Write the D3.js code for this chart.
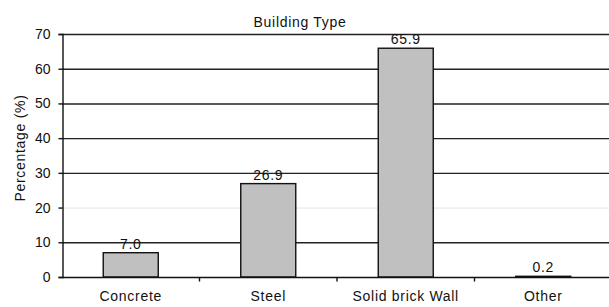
<!DOCTYPE html>
<html lang="en">
<head>
<meta charset="utf-8">
<title>Building Type</title>
<script src="https://d3js.org/d3.v7.min.js"></script>
<style>
  body { margin: 0; background: #fff; }
  text { font-family: "Liberation Sans", Arial, sans-serif; fill: #111; }
</style>
</head>
<body>
<script>
// data
var categories = ["Concrete", "Steel", "Solid brick Wall", "Other"];
var values = [7.0, 26.9, 65.9, 0.2];
var valueLabels = ["7.0", "26.9", "65.9", "0.2"];
var yTicks = [0, 10, 20, 30, 40, 50, 60, 70];

var w = 609, h = 307;
var mLeft = 62, mRight = 612, mTop = 34, mBottom = 277;
var fs = 14, ls = 0.7; // font size, letter spacing (original text is a bit wide)

var svg = d3.select("body").append("svg")
    .attr("width", w)
    .attr("height", h);

var x = d3.scaleBand()
    .domain(categories)
    .range([mLeft, mRight])
    .paddingInner(0.6)
    .paddingOuter(0.3);

var y = d3.scaleLinear()
    .domain([0, 70])
    .range([mBottom, mTop]);

// gridlines (20 is barely visible in the original)
svg.append("g").selectAll("line")
    .data(yTicks.filter(function(d) { return d > 0; }))
    .enter().append("line")
    .attr("x1", mLeft).attr("x2", w)
    .attr("y1", function(d) { return y(d) + 0.5; })
    .attr("y2", function(d) { return y(d) + 0.5; })
    .attr("stroke", function(d) { return d == 20 ? "#e4e4e4" : "#222"; })
    .attr("stroke-width", function(d) { return d == 20 ? 1 : 1.4; });

// bars
svg.append("g").selectAll("rect")
    .data(values)
    .enter().append("rect")
    .attr("x", function(d, i) { return x(categories[i]); })
    .attr("y", function(d) { return y(d); })
    .attr("width", x.bandwidth())
    .attr("height", function(d) { return y(0) - y(d); })
    .attr("fill", "#c0c0c0")
    .attr("stroke", "#111")
    .attr("stroke-width", 1.4);

// value labels
svg.append("g").selectAll("text")
    .data(values)
    .enter().append("text")
    .attr("x", function(d, i) { return x(categories[i]) + x.bandwidth() / 2; })
    .attr("y", function(d) { return y(d) - 4; })
    .attr("text-anchor", "middle")
    .attr("font-size", fs)
    .attr("letter-spacing", ls)
    .text(function(d, i) { return valueLabels[i]; });

// axes
var yAxis = d3.axisLeft(y).tickValues(yTicks).tickSize(4).tickPadding(8);
var gy = svg.append("g")
    .attr("transform", "translate(" + (mLeft + 0.5) + ",0)")
    .call(yAxis);
gy.select(".domain").attr("stroke", "#111").attr("stroke-width", 1.4);
gy.selectAll(".tick line").attr("stroke", "#111").attr("stroke-width", 1.4);
gy.selectAll("text").attr("font-size", fs).attr("fill", "#111").attr("font-family", null);

var xAxis = d3.axisBottom(x).tickSize(0).tickPadding(14);
var gx = svg.append("g")
    .attr("transform", "translate(0," + (mBottom + 0.5) + ")")
    .call(xAxis);
gx.select(".domain").attr("d", "M" + mLeft + ",0H" + w).attr("stroke", "#111").attr("stroke-width", 1.4);
gx.selectAll("text").attr("font-size", fs).attr("letter-spacing", ls).attr("fill", "#111").attr("font-family", null);

// ticks between categories
var gap = (x.step() - x.bandwidth()) / 2;
gx.append("g").selectAll("line")
    .data(categories.slice(1))
    .enter().append("line")
    .attr("x1", function(d) { return x(d) - gap; })
    .attr("x2", function(d) { return x(d) - gap; })
    .attr("y1", 0).attr("y2", 4)
    .attr("stroke", "#111").attr("stroke-width", 1.4);

// title
svg.append("text")
    .attr("x", 300).attr("y", 27)
    .attr("text-anchor", "middle")
    .attr("font-size", fs)
    .attr("letter-spacing", ls)
    .text("Building Type");

// y label
svg.append("text")
    .attr("transform", "translate(25,148) rotate(-90)")
    .attr("text-anchor", "middle")
    .attr("font-size", fs)
    .attr("letter-spacing", ls)
    .text("Percentage (%)");
</script>
</body>
</html>
